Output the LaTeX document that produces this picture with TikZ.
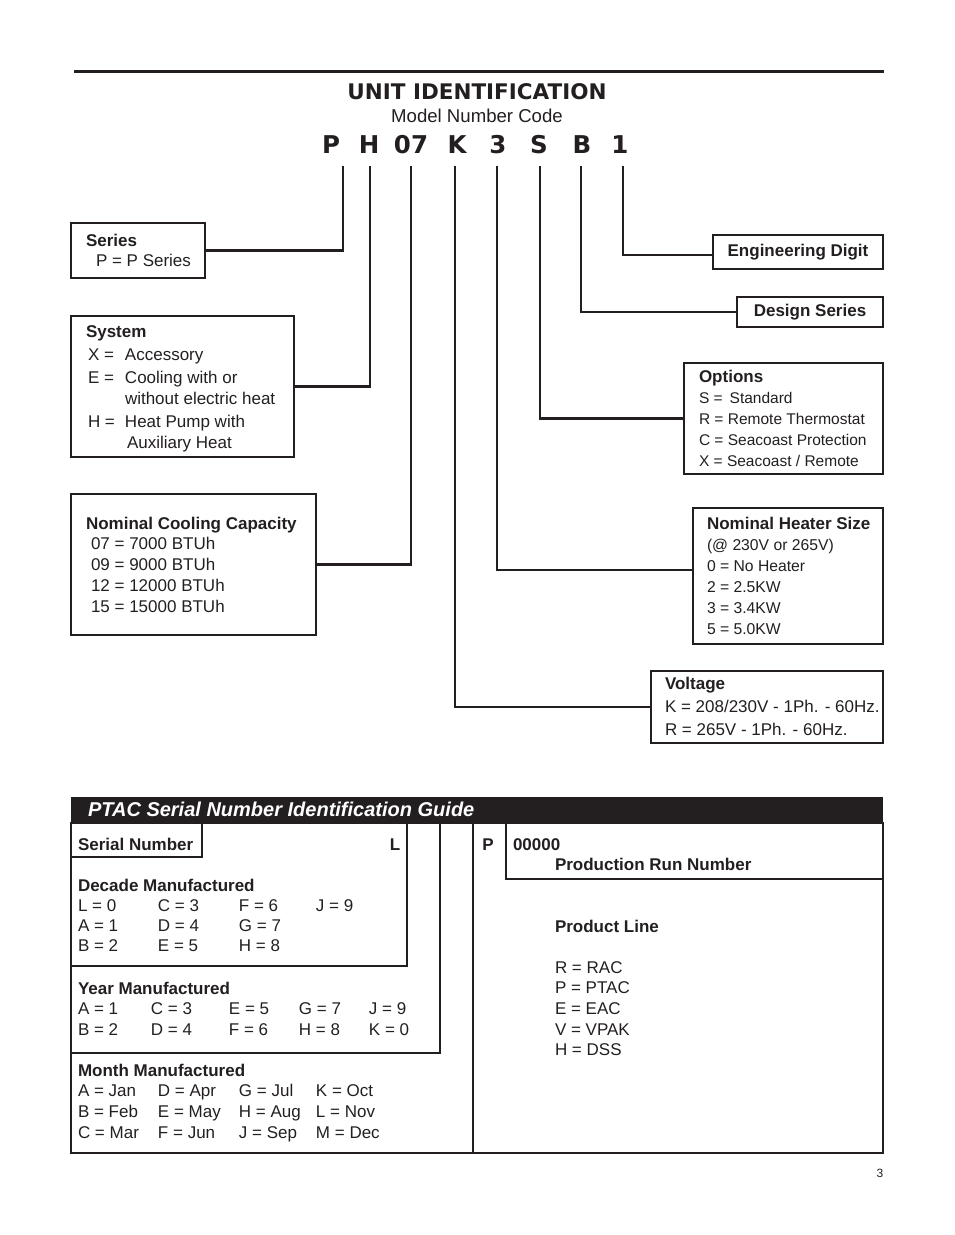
\documentclass[tikz,border=0pt]{standalone}
\usepackage{fontspec}
\setmainfont{Liberation Sans}
\newfontfamily\heavyfont{DejaVu Sans}
\usepackage{graphicx}
\usetikzlibrary{positioning}
\definecolor{ink}{RGB}{35,31,32}

\begin{document}
\begin{tikzpicture}[x=1pt,y=-1pt,
    box/.style={draw=ink,line width=2.2pt,inner sep=0pt,outer sep=0pt,anchor=north west,text=ink},
    conn/.style={draw=ink,line width=2.2pt},
    rule/.style={draw=ink,line width=1.8pt},
    txt/.style={inner sep=0pt,outer sep=0pt,anchor=base west,text=ink},
    ctxt/.style={inner sep=0pt,outer sep=0pt,anchor=base,text=ink},
    codeltr/.style={ctxt,font=\heavyfont\bfseries\fontsize{24.5}{26}\selectfont}]
    \useasboundingbox (0,0) rectangle (954,1235);

    % heading
    \draw [ink,line width=3pt] (74,71.5) -- (884,71.5);
    \node [ctxt,font=\heavyfont\bfseries\fontsize{21.5}{23}\selectfont] (title) at (477,99.5) {UNIT IDENTIFICATION};
    \node [ctxt,font=\fontsize{18.6}{20}\selectfont] (subtitle) at (477,122.7) {Model Number Code};
    \foreach \nm/\xx in {P/331,H/369,07/411,K/457,3/498,S/539,B/582,1/620}
        \node [codeltr] (c\nm) at (\xx,153.5) {\nm};
    \foreach \nm/\xx in {P/343,H/370,07/411,K/455,3/497,S/540,B/581,1/623}
        \coordinate (l\nm) at (\xx,166);

    % left boxes
    \node [box,minimum width=134,minimum height=55] (series) at (71,223) {};
    \node [txt,font=\fontsize{17}{20}\selectfont] (seriestxt) at (86,246) {\begin{tabular}[t]{@{}l@{}}\textbf{Series}\\\hspace{10pt}P = P Series\end{tabular}};
    \node [box,minimum width=223,minimum height=141] (system) at (71,316) {};
    \node [txt,font=\fontsize{17}{21}\selectfont] (systemtxt) at (86,337) {\begin{tabular}[t]{@{}p{39pt}@{}l@{}}
        \multicolumn{2}{@{}l@{}}{\textbf{System}}\\[2pt]
        \hspace{2pt}X = & Accessory\\[2pt]
        \hspace{2pt}E = & Cooling with or\\
         & without electric heat\\[2pt]
        \hspace{2pt}H = & Heat Pump with\\
         & \hspace{2pt}Auxiliary Heat\end{tabular}};
    \node [box,minimum width=245,minimum height=141] (cooling) at (71,494) {};
    \node [txt,font=\fontsize{17}{20.75}\selectfont] (coolingtxt) at (86,529) {\begin{tabular}[t]{@{}l@{}}
        \textbf{Nominal Cooling Capacity}\\
        \hspace{5pt}07 = 7000 BTUh\\
        \hspace{5pt}09 = 9000 BTUh\\
        \hspace{5pt}12 = 12000 BTUh\\
        \hspace{5pt}15 = 15000 BTUh\end{tabular}};

    % right boxes
    \node [box,minimum width=170,minimum height=34,font=\bfseries\fontsize{17}{20}\selectfont] (engdigit) at (713,235) {Engineering Digit};
    \node [box,minimum width=146,minimum height=30,font=\bfseries\fontsize{17}{20}\selectfont] (design) at (737,297) {Design Series};
    \node [box,minimum width=199,minimum height=111] (options) at (684,363) {};
    \node [txt,font=\fontsize{15.5}{21}\selectfont] (optionstxt) at (699,382) {\begin{tabular}[t]{@{}l@{}}
        \textbf{\fontsize{17}{21}\selectfont Options}\\
        S =\hspace{7pt}Standard\\
        R = Remote Thermostat\\
        C = Seacoast Protection\\
        X = Seacoast / Remote\end{tabular}};
    \node [box,minimum width=190,minimum height=136] (heater) at (693,508) {};
    \node [txt,font=\fontsize{15.7}{21}\selectfont] (heatertxt) at (707,529) {\begin{tabular}[t]{@{}l@{}}
        \textbf{\fontsize{17}{21}\selectfont Nominal Heater Size}\\
        (@ 230V or 265V)\\
        0 = No Heater\\
        2 = 2.5KW\\
        3 = 3.4KW\\
        5 = 5.0KW\end{tabular}};
    \node [box,minimum width=232,minimum height=72] (voltage) at (651,671) {};
    \node [txt,font=\fontsize{17}{23}\selectfont] (voltagetxt) at (665,689) {\begin{tabular}[t]{@{}l@{}}
        \textbf{Voltage}\\
        K = 208/230V - 1Ph. - 60Hz.\\
        R = 265V - 1Ph. - 60Hz.\end{tabular}};

    % connectors
    \draw [conn] (lP) |- (series);
    \draw [conn] (lH) |- (system);
    \draw [conn] (l07) |- (cooling);
    \draw [conn] (lK) |- (voltage);
    \draw [conn] (l3) |- ([yshift=6pt]heater.west);
    \draw [conn] (lS) |- (options);
    \draw [conn] (lB) |- (design);
    \draw [conn] (l1) |- ([yshift=-3pt]engdigit.west);

    % serial number guide
    \fill [ink] (71,797) rectangle (883,823);
    \node [txt,text=white,font=\bfseries\itshape\fontsize{20}{22}\selectfont] (guide) at (88,816) {PTAC Serial Number Identification Guide};
    \draw [ink,line width=2.3pt] (71,823) rectangle (883,1153);
    \draw [rule] (71,857) -| (202,823);
    \draw [rule] (71,966) -| (407,823);
    \draw [rule] (71,1053) -| (440,823);
    \draw [rule] (473,823) -- (473,1153);
    \draw [rule] (506,823) |- (883,879);

    \node [txt,font=\bfseries\fontsize{17}{20}\selectfont] (serial) at (78,850) {Serial Number};
    \node [ctxt,font=\bfseries\fontsize{17}{20}\selectfont] (sL) at (395,850) {L};
    \node [ctxt,font=\bfseries\fontsize{17}{20}\selectfont] (sP) at (488,850) {P};
    \node [txt,font=\bfseries\fontsize{17}{20}\selectfont] (run) at (513,850) {\begin{tabular}[t]{@{}l@{}}00000\\\hspace{42pt}Production Run Number\end{tabular}};
    \node [txt,font=\fontsize{17}{20.6}\selectfont] (prodline) at (555,932) {\begin{tabular}[t]{@{}l@{}}
        \textbf{Product Line}\\[20.6pt]
        R = RAC\\ P = PTAC\\ E = EAC\\ V = VPAK\\ H = DSS\end{tabular}};
    \node [txt,font=\fontsize{17}{20.3}\selectfont] (decade) at (78,891) {\begin{tabular}[t]{@{}p{80pt}@{}p{81pt}@{}p{77pt}@{}l@{}}
        \multicolumn{4}{@{}l@{}}{\textbf{Decade Manufactured}}\\
        L = 0 & C = 3 & F = 6 & J = 9\\
        A = 1 & D = 4 & G = 7 & \\
        B = 2 & E = 5 & H = 8 & \end{tabular}};
    \node [txt,font=\fontsize{17}{20.5}\selectfont] (year) at (78,994) {\begin{tabular}[t]{@{}p{73pt}@{}p{78pt}@{}p{70pt}@{}p{70pt}@{}l@{}}
        \multicolumn{5}{@{}l@{}}{\textbf{Year Manufactured}}\\
        A = 1 & C = 3 & E = 5 & G = 7 & J = 9\\
        B = 2 & D = 4 & F = 6 & H = 8 & K = 0\end{tabular}};
    \node [txt,font=\fontsize{17}{20.7}\selectfont] (month) at (78,1076) {\begin{tabular}[t]{@{}p{80pt}@{}p{81pt}@{}p{77pt}@{}l@{}}
        \multicolumn{4}{@{}l@{}}{\textbf{Month Manufactured}}\\
        A = Jan & D = Apr & G = Jul & K = Oct\\
        B = Feb & E = May & H = Aug & L = Nov\\
        C = Mar & F = Jun & J = Sep & M = Dec\end{tabular}};

    \node [ctxt,font=\fontsize{12}{14}\selectfont] (pagenum) at (880,1177.3) {3};
\end{tikzpicture}
\end{document}
